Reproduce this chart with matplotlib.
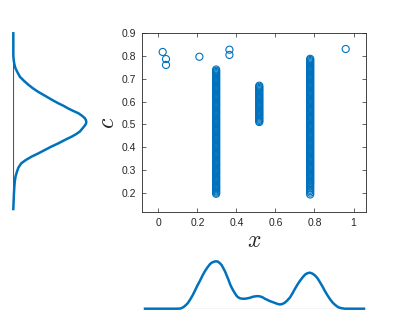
import matplotlib
matplotlib.use('Agg')
import matplotlib.pyplot as plt

plt.rcParams['font.family'] = ['Liberation Sans', 'DejaVu Sans']
plt.rcParams['mathtext.fontset'] = 'cm'

BLUE = '#0072BD'
DARK = '#262626'

# scatter data: three dense columns plus a few outliers
col1_x = 0.296
col1_c = [0.195, 0.200, 0.205, 0.210, 0.215, 0.220, 0.225, 0.230, 0.235, 0.240,
          0.245, 0.250, 0.255, 0.260, 0.265, 0.270, 0.275, 0.280, 0.285, 0.290,
          0.295, 0.300, 0.305, 0.310, 0.315, 0.320, 0.325, 0.330, 0.335, 0.340,
          0.345, 0.350, 0.355, 0.360, 0.365, 0.370, 0.375, 0.380, 0.385, 0.390,
          0.395, 0.400, 0.405, 0.410, 0.415, 0.420, 0.425, 0.430, 0.435, 0.440,
          0.445, 0.450, 0.455, 0.460, 0.465, 0.470, 0.475, 0.480, 0.485, 0.490,
          0.495, 0.500, 0.505, 0.510, 0.515, 0.520, 0.525, 0.530, 0.535, 0.540,
          0.545, 0.550, 0.555, 0.560, 0.565, 0.570, 0.575, 0.580, 0.585, 0.590,
          0.595, 0.600, 0.605, 0.610, 0.615, 0.620, 0.625, 0.630, 0.635, 0.640,
          0.645, 0.650, 0.655, 0.660, 0.665, 0.670, 0.675, 0.680, 0.685, 0.690,
          0.695, 0.700, 0.705, 0.710, 0.715, 0.720, 0.725, 0.730, 0.735, 0.741]

col2_x = 0.517
col2_c = [0.510, 0.515, 0.520, 0.525, 0.530, 0.535, 0.540, 0.545, 0.550, 0.555,
          0.560, 0.565, 0.570, 0.575, 0.580, 0.585, 0.590, 0.595, 0.600, 0.605,
          0.610, 0.615, 0.620, 0.625, 0.630, 0.635, 0.640, 0.645, 0.650, 0.655,
          0.660, 0.665, 0.670]

col3_x = 0.778
col3_c = [0.192, 0.200, 0.207, 0.213, 0.219, 0.226, 0.232, 0.238, 0.243, 0.248,
          0.253, 0.258, 0.263, 0.268, 0.273, 0.278, 0.283, 0.288, 0.293, 0.298,
          0.303, 0.308, 0.313, 0.318, 0.323, 0.328, 0.333, 0.338, 0.343, 0.348,
          0.353, 0.358, 0.363, 0.368, 0.373, 0.378, 0.383, 0.388, 0.393, 0.398,
          0.403, 0.408, 0.413, 0.418, 0.423, 0.428, 0.433, 0.438, 0.443, 0.448,
          0.453, 0.458, 0.463, 0.468, 0.473, 0.478, 0.483, 0.488, 0.493, 0.498,
          0.503, 0.508, 0.513, 0.518, 0.523, 0.528, 0.533, 0.538, 0.543, 0.548,
          0.553, 0.558, 0.563, 0.568, 0.573, 0.578, 0.583, 0.588, 0.593, 0.598,
          0.603, 0.608, 0.613, 0.618, 0.623, 0.628, 0.633, 0.638, 0.643, 0.648,
          0.653, 0.658, 0.663, 0.668, 0.673, 0.678, 0.683, 0.688, 0.693, 0.698,
          0.703, 0.708, 0.713, 0.718, 0.723, 0.728, 0.733, 0.738, 0.743, 0.748,
          0.753, 0.758, 0.763, 0.768, 0.773, 0.778, 0.783, 0.788]

out_x = [0.022, 0.039, 0.039, 0.210, 0.364, 0.364, 0.960]
out_c = [0.818, 0.787, 0.761, 0.797, 0.828, 0.805, 0.831]

# marginal density of x (relative height)
dens_x = [-0.068, 0.100, 0.115, 0.128, 0.140, 0.152, 0.163, 0.176, 0.188, 0.201,
          0.214, 0.227, 0.239, 0.252, 0.265, 0.274, 0.282, 0.290, 0.299, 0.307,
          0.316, 0.325, 0.333, 0.342, 0.351, 0.360, 0.368, 0.377, 0.385, 0.394,
          0.402, 0.410, 0.419, 0.432, 0.445, 0.458, 0.470, 0.483, 0.496, 0.509,
          0.522, 0.535, 0.547, 0.560, 0.573, 0.586, 0.599, 0.612, 0.624, 0.637,
          0.650, 0.663, 0.676, 0.689, 0.701, 0.714, 0.727, 0.740, 0.753, 0.765,
          0.778, 0.791, 0.804, 0.817, 0.829, 0.842, 0.855, 0.868, 0.881, 0.894,
          0.907, 0.923, 0.940, 0.957, 1.055]
dens_x_val = [0.0, 0.0, 0.005, 0.03, 0.07, 0.12, 0.19, 0.28, 0.38, 0.49,
              0.59, 0.70, 0.79, 0.87, 0.94, 0.97, 0.985, 0.997, 1.0, 0.99,
              0.96, 0.92, 0.86, 0.79, 0.70, 0.61, 0.52, 0.44, 0.38, 0.32,
              0.27, 0.24, 0.22, 0.21, 0.21, 0.22, 0.23, 0.25, 0.26, 0.265,
              0.26, 0.24, 0.21, 0.185, 0.16, 0.14, 0.12, 0.10, 0.09, 0.10,
              0.13, 0.18, 0.24, 0.33, 0.42, 0.51, 0.59, 0.66, 0.72, 0.75,
              0.76, 0.74, 0.70, 0.64, 0.56, 0.47, 0.37, 0.28, 0.20, 0.13,
              0.08, 0.03, 0.01, 0.0, 0.0]

# marginal density of c (relative height)
dens_c = [0.900, 0.800, 0.785, 0.772, 0.760, 0.746, 0.730, 0.709, 0.690, 0.673,
          0.658, 0.643, 0.630, 0.617, 0.604, 0.592, 0.581, 0.570, 0.559, 0.549,
          0.538, 0.527, 0.518, 0.510, 0.503, 0.497, 0.485, 0.468, 0.457, 0.446,
          0.432, 0.417, 0.402, 0.387, 0.372, 0.358, 0.343, 0.329, 0.310, 0.292,
          0.270, 0.248, 0.220, 0.190, 0.128]
dens_c_val = [0.0, 0.0, 0.005, 0.01, 0.018, 0.03, 0.055, 0.09, 0.15, 0.21,
              0.27, 0.34, 0.41, 0.48, 0.55, 0.62, 0.69, 0.75, 0.82, 0.89,
              0.94, 0.98, 0.995, 1.0, 0.995, 0.985, 0.955, 0.91, 0.86, 0.80,
              0.71, 0.62, 0.52, 0.43, 0.34, 0.25, 0.17, 0.11, 0.07, 0.05,
              0.03, 0.02, 0.013, 0.008, 0.0]

W, H = 407, 326
fig = plt.figure(figsize=(W / 100, H / 100), dpi=100)


def px_axes(x0, y0, x1, y1):
    return fig.add_axes([x0 / W, 1 - y1 / H, (x1 - x0) / W, (y1 - y0) / H])


# main scatter
ax = px_axes(142, 33.3, 366, 212)
mk = dict(marker='o', s=26, facecolors='none', edgecolors=BLUE, linewidths=0.8)
ax.scatter([col1_x] * len(col1_c), col1_c, **mk)
ax.scatter([col2_x] * len(col2_c), col2_c, **mk)
ax.scatter([col3_x] * len(col3_c), col3_c, **mk)
ax.scatter(out_x, out_c, **mk)
ax.set_xlim(-0.084, 1.064)
ax.set_ylim(0.115, 0.9)
ax.set_xticks([0, 0.2, 0.4, 0.6, 0.8, 1])
ax.set_xticklabels(['0', '0.2', '0.4', '0.6', '0.8', '1'])
ax.set_yticks([0.2, 0.3, 0.4, 0.5, 0.6, 0.7, 0.8, 0.9])
ax.tick_params(direction='in', top=True, right=True, length=3, width=0.5,
               labelsize=7.5, colors=DARK, pad=4)
for s in ax.spines.values():
    s.set_linewidth(0.6)
    s.set_color(DARK)
ax.set_xlabel('$x$', fontsize=17, color=DARK, labelpad=2)
ax.set_ylabel('$c$', fontsize=17, color=DARK, labelpad=2)

# left marginal
axl = px_axes(13.3, 33.3, 88, 209)
axl.plot(dens_c_val, dens_c, color=BLUE, lw=1.8, clip_on=False, zorder=3,
         solid_joinstyle='round')
axl.set_xlim(0, 1.023)
axl.set_ylim(0.128, 0.9)
axl.axis('off')
axl.axvline(0, color='#555555', lw=0.8, zorder=1)

# bottom marginal
axb = px_axes(145, 255, 364, 308.7)
axb.plot(dens_x, dens_x_val, color=BLUE, lw=1.8, clip_on=False, zorder=3,
         solid_joinstyle='round')
axb.set_xlim(-0.068, 1.055)
axb.set_ylim(0, 1.133)
axb.axis('off')
axb.axhline(0, color='#555555', lw=0.8, zorder=1)

fig.savefig('out.png', dpi=100)
